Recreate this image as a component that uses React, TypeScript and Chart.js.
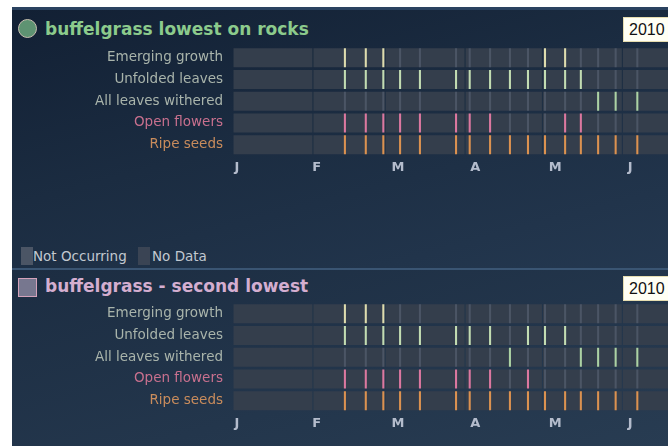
import React, { useEffect, useRef } from 'react';
import { Chart, registerables } from 'chart.js';

Chart.register(...registerables);

const phases = ['Emerging growth', 'Unfolded leaves', 'All leaves withered', 'Open flowers', 'Ripe seeds'];
const monthStarts = [0, 31, 59, 90, 120, 151, 181];
const monthTickDays = [1.5, 32.5, 64, 94, 125, 154];
const monthTickLabels = ['J', 'F', 'M', 'A', 'M', 'J'];
const visibleDayMax = 168.7;

// observation dates (day of year, Jan 1 = 0)
const obsDays = [43.4, 51.5, 58.3, 64.8, 72.5, 86.5, 91.8, 99.7, 107.4, 114.4, 121.0, 128.8, 134.9, 141.6, 148.4, 156.8];

// 1 = occurring, 0 = not occurring
const rocksEmerging = [1, 1, 1, 0, 0, 0, 0, 0, 0, 0, 1, 1, 0, 0, 0, 0];
const rocksUnfolded = [1, 1, 1, 1, 1, 1, 1, 1, 1, 1, 1, 1, 1, 0, 0, 0];
const rocksWithered = [0, 0, 0, 0, 0, 0, 0, 0, 0, 0, 0, 0, 0, 1, 1, 1];
const rocksFlowers = [1, 1, 1, 1, 1, 1, 1, 1, 0, 0, 0, 1, 1, 0, 0, 0];
const rocksSeeds = [1, 1, 1, 1, 1, 1, 1, 1, 1, 1, 1, 1, 1, 1, 1, 1];

const secondEmerging = [1, 1, 1, 0, 0, 0, 0, 0, 0, 0, 0, 0, 0, 0, 0, 0];
const secondUnfolded = [1, 1, 1, 1, 1, 1, 1, 1, 0, 1, 1, 1, 0, 0, 0, 0];
const secondWithered = [0, 0, 0, 0, 0, 0, 0, 0, 1, 0, 0, 0, 1, 1, 1, 1];
const secondFlowers = [1, 1, 1, 1, 1, 1, 1, 1, 0, 1, 0, 0, 0, 0, 0, 0];
const secondSeeds = [1, 1, 1, 1, 1, 1, 1, 1, 1, 1, 1, 1, 1, 1, 1, 1];

const phaseColors = ['#dedcae', '#c2dcb2', '#acd2a4', '#dc78a0', '#dc9250'];
const labelColors = ['#a9b4ab', '#a9b4ab', '#a9b4ab', '#c8708e', '#c98c5c'];
const noDataColor = '#343e4c';
const notOccurringColor = '#4b5565';

function PhenoChart({ statuses, top }: { statuses: number[][]; top: number }) {
  const ref = useRef<HTMLCanvasElement>(null);
  useEffect(() => {
    const cellData: any[] = [];
    phases.forEach((p) => {
      for (let m = 0; m < monthStarts.length - 1; m++) {
        cellData.push({ x: [monthStarts[m] + 0.2, monthStarts[m + 1] - 0.2], y: p });
      }
    });
    const markData: any[] = [];
    const markColors: string[] = [];
    phases.forEach((p, i) => {
      obsDays.forEach((d, j) => {
        markData.push({ x: [d - 0.4, d + 0.4], y: p });
        markColors.push(statuses[i][j] ? phaseColors[i] : notOccurringColor);
      });
    });
    const chart = new Chart(ref.current as HTMLCanvasElement, {
      type: 'bar',
      data: {
        labels: phases,
        datasets: [
          { data: cellData, backgroundColor: noDataColor, grouped: false, order: 2, barPercentage: 0.875, categoryPercentage: 1, borderWidth: 0, inflateAmount: 0 } as any,
          { data: markData, backgroundColor: markColors, grouped: false, order: 1, barPercentage: 0.875, categoryPercentage: 1, borderWidth: 0, inflateAmount: 0 } as any,
        ],
      },
      options: {
        indexAxis: 'y',
        responsive: false,
        animation: false,
        events: [],
        plugins: { legend: { display: false }, tooltip: { enabled: false } },
        layout: { padding: 0 },
        scales: {
          x: {
            type: 'linear',
            min: 0,
            max: visibleDayMax,
            grid: { display: false, drawTicks: false },
            border: { display: false },
            afterBuildTicks: (axis: any) => {
              axis.ticks = monthTickDays.map((v) => ({ value: v }));
            },
            afterFit: (axis: any) => {
              axis.height = 21.5;
              axis.paddingLeft = 0;
              axis.paddingRight = 0;
            },
            ticks: {
              autoSkip: false,
              maxRotation: 0,
              padding: 4,
              color: '#b4bccc',
              font: { family: 'DejaVu Sans', size: 13, weight: 'bold' },
              callback: (_v: any, i: number) => monthTickLabels[i],
            },
          },
          y: {
            type: 'category',
            grid: { display: false, drawTicks: false },
            border: { display: false },
            afterFit: (axis: any) => {
              axis.width = 233;
              axis.paddingTop = 0;
              axis.paddingBottom = 0;
            },
            ticks: {
              padding: 10,
              color: (ctx: any) => labelColors[ctx.index],
              font: { family: 'DejaVu Sans', size: 13.5 },
            },
          },
        },
      } as any,
    });
    return () => chart.destroy();
  }, [statuses]);
  return (
    <canvas
      ref={ref}
      width={668}
      height={130}
      style={{ position: 'absolute', left: 0, top, width: 668, height: 130 }}
    />
  );
}

const rocksStatuses = [rocksEmerging, rocksUnfolded, rocksWithered, rocksFlowers, rocksSeeds];
const secondStatuses = [secondEmerging, secondUnfolded, secondWithered, secondFlowers, secondSeeds];

const yearBox = (top: number) => (
  <div
    style={{
      position: 'absolute',
      left: 623,
      top,
      width: 52,
      height: 25,
      background: '#fffff4',
      border: '1px solid #e6ddb0',
      boxSizing: 'border-box',
      color: '#111',
      fontFamily: 'Liberation Sans',
      fontSize: 16,
      lineHeight: '23px',
      paddingLeft: 5,
    }}
  >
    2010
  </div>
);

export default function App() {
  return (
    <div
      style={{
        position: 'fixed',
        left: 0,
        top: 0,
        width: 668,
        height: 446,
        background: '#ffffff',
        overflow: 'hidden',
        fontFamily: 'DejaVu Sans',
      }}
    >
      <div
        style={{
          position: 'absolute',
          left: 12,
          top: 7,
          width: 656,
          height: 262,
          background: 'linear-gradient(165deg, #122034 0%, #1b2c41 45%, #243850 100%)',
          borderTop: '3px solid #2a4260',
          boxSizing: 'border-box',
        }}
      />
      <div
        style={{
          position: 'absolute',
          left: 12,
          top: 268,
          width: 656,
          height: 178,
          background: 'linear-gradient(165deg, #1c2d42 0%, #23364c 60%, #283c52 100%)',
          borderTop: '2px solid #3a5573',
          boxSizing: 'border-box',
        }}
      />

      {/* top panel title */}
      <div
        style={{
          position: 'absolute',
          left: 17.5,
          top: 18.5,
          width: 19,
          height: 19,
          borderRadius: '50%',
          background: '#5e9372',
          border: '1.5px solid #c9c0b0',
          boxSizing: 'border-box',
        }}
      />
      <div
        style={{
          position: 'absolute',
          left: 45,
          top: 19,
          fontSize: 17,
          lineHeight: '20px',
          fontWeight: 'bold',
          color: '#8ccb8c',
          whiteSpace: 'nowrap',
        }}
      >
        buffelgrass lowest on rocks
      </div>
      {yearBox(17)}

      <PhenoChart statuses={rocksStatuses} top={47} />

      {/* legend */}
      <div style={{ position: 'absolute', left: 21, top: 247, width: 12, height: 18, background: notOccurringColor }} />
      <div
        style={{
          position: 'absolute',
          left: 33,
          top: 248,
          fontSize: 13.5,
          lineHeight: '16px',
          color: '#c2c8d0',
          whiteSpace: 'nowrap',
        }}
      >
        Not Occurring
      </div>
      <div style={{ position: 'absolute', left: 138, top: 247, width: 12, height: 18, background: '#3a4454' }} />
      <div
        style={{
          position: 'absolute',
          left: 152,
          top: 248,
          fontSize: 13.5,
          lineHeight: '16px',
          color: '#c2c8d0',
          whiteSpace: 'nowrap',
        }}
      >
        No Data
      </div>

      {/* bottom panel title */}
      <div
        style={{
          position: 'absolute',
          left: 18,
          top: 278,
          width: 19,
          height: 19,
          background: '#77778f',
          border: '1.5px solid #d4a2ba',
          boxSizing: 'border-box',
        }}
      />
      <div
        style={{
          position: 'absolute',
          left: 45,
          top: 276,
          fontSize: 17,
          lineHeight: '20px',
          fontWeight: 'bold',
          color: '#d4aed0',
          whiteSpace: 'nowrap',
        }}
      >
        buffelgrass - second lowest
      </div>
      {yearBox(276)}

      <PhenoChart statuses={secondStatuses} top={303} />
    </div>
  );
}
